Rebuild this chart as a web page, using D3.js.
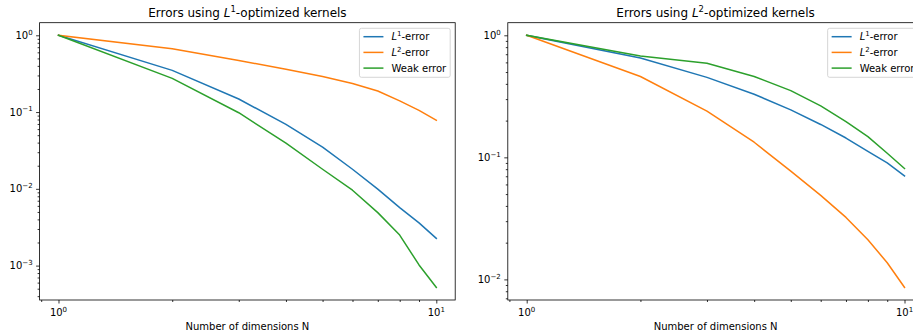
<!DOCTYPE html>
<html>
<head>
<meta charset="utf-8">
<script src="https://cdn.jsdelivr.net/npm/d3@7"></script>
<style>
  body { margin: 0; background: #fff; }
  svg { display: block; font-family: "DejaVu Sans", sans-serif; }
</style>
</head>
<body>
<svg id="chart" width="913" height="332"></svg>
<script>
// number of dimensions on the x axis
const dims = [1, 2, 3, 4, 5, 6, 7, 8, 9, 10];

// errors with L1-optimized kernels
const l1KernelL1Err   = [1, 0.349, 0.148, 0.069, 0.035, 0.0180, 0.0099, 0.0057, 0.0036, 0.00226];
const l1KernelL2Err   = [1, 0.668, 0.470, 0.362, 0.290, 0.236, 0.188, 0.140, 0.105, 0.078];
const l1KernelWeakErr = [1, 0.275, 0.098, 0.0395, 0.018, 0.0096, 0.0049, 0.0025, 0.00102, 0.00052];

// errors with L2-optimized kernels
const l2KernelL1Err   = [1, 0.652, 0.452, 0.329, 0.245, 0.186, 0.144, 0.112, 0.090, 0.0705];
const l2KernelL2Err   = [1, 0.460, 0.239, 0.133, 0.077, 0.0488, 0.0322, 0.0211, 0.0137, 0.0086];
const l2KernelWeakErr = [1, 0.678, 0.590, 0.460, 0.352, 0.264, 0.196, 0.148, 0.108, 0.081];

const seriesColors = ["#1f77b4", "#ff7f0e", "#2ca02c"];
const legendLabels = [
    [["L", "it"], ["1", "sup"], ["-error", ""]],
    [["L", "it"], ["2", "sup"], ["-error", ""]],
    [["Weak error", ""]]
];

const svg = d3.select("#chart");
const axTop = 22.7, axBottom = 300;

// text with italic / superscript pieces, mathtext style
function mathText(sel, parts, size) {
    let raised = false;
    parts.forEach(([t, kind]) => {
        const ts = sel.append("tspan").text(t);
        if (kind == "sup") {
            ts.attr("font-size", size * 0.7).attr("dy", -size * 0.42);
            raised = true;
        } else {
            if (raised) { ts.attr("dy", size * 0.42); raised = false; }
            if (kind == "it") ts.attr("font-style", "italic");
        }
    });
    return sel;
}

function powLabel(v) {
    const e = Math.round(Math.log10(v));
    return [["10", ""], [(e < 0 ? "\u2212" : "") + Math.abs(e), "sup"]];
}

function drawPanel(p) {
    const g = svg.append("g");

    const allVals = p.errors.flat();
    const lo = Math.log10(d3.min(allVals)), hi = Math.log10(d3.max(allVals));
    const m = (hi - lo) * 0.05;

    const x = d3.scaleLog()
        .domain([Math.pow(10, -0.05), Math.pow(10, 1.05)])
        .range([p.left, p.right]);
    const y = d3.scaleLog()
        .domain([Math.pow(10, lo - m), Math.pow(10, hi + m)])
        .range([axBottom, axTop]);

    const isMajor = v => Math.abs(Math.log10(v) - Math.round(Math.log10(v))) < 1e-9;
    const xAll = x.ticks(), yAll = y.ticks();

    // ticks
    const tickAxis = (axis, vals, size, transform) => {
        const a = g.append("g").attr("transform", transform)
            .call(axis.tickValues(vals).tickSize(size).tickFormat(""));
        a.select(".domain").remove();
        a.selectAll("line").attr("stroke", "#000").attr("stroke-width", 0.8);
    };
    tickAxis(d3.axisBottom(x), xAll.filter(v => !isMajor(v)), 2, `translate(0,${axBottom})`);
    tickAxis(d3.axisBottom(x), xAll.filter(isMajor), 3.5, `translate(0,${axBottom})`);
    tickAxis(d3.axisLeft(y), yAll.filter(v => !isMajor(v)), 2, `translate(${p.left},0)`);
    tickAxis(d3.axisLeft(y), yAll.filter(isMajor), 3.5, `translate(${p.left},0)`);

    // tick labels
    xAll.filter(isMajor).forEach(v => {
        mathText(g.append("text")
            .attr("x", x(v)).attr("y", 316)
            .attr("text-anchor", "middle")
            .attr("font-size", 10), powLabel(v), 10);
    });
    yAll.filter(isMajor).forEach(v => {
        mathText(g.append("text")
            .attr("x", p.left - 7).attr("y", y(v) + 3.6)
            .attr("text-anchor", "end")
            .attr("font-size", 10), powLabel(v), 10);
    });

    // lines
    const line = d3.line()
        .x((d, i) => x(dims[i]))
        .y(d => y(d));
    g.append("g").selectAll("path")
        .data(p.errors)
        .enter()
        .append("path")
        .attr("d", line)
        .attr("fill", "none")
        .attr("stroke", (d, i) => seriesColors[i])
        .attr("stroke-width", 1.5)
        .attr("stroke-linejoin", "round")
        .attr("stroke-linecap", "square");

    // spines
    g.append("rect")
        .attr("x", p.left).attr("y", axTop)
        .attr("width", p.right - p.left).attr("height", axBottom - axTop)
        .attr("fill", "none").attr("stroke", "#000").attr("stroke-width", 0.8);

    // title and axis label
    mathText(g.append("text")
        .attr("x", (p.left + p.right) / 2).attr("y", 16.7)
        .attr("text-anchor", "middle").attr("font-size", 12),
        [["Errors using ", ""], ["L", "it"], [p.norm, "sup"], ["-optimized kernels", ""]], 12);

    g.append("text")
        .attr("x", (p.left + p.right) / 2).attr("y", 330)
        .attr("text-anchor", "middle").attr("font-size", 10)
        .text("Number of dimensions N");

    // legend
    const leg = g.append("g");
    const box = leg.append("rect");
    const texts = legendLabels.map((lab, i) =>
        mathText(leg.append("text").attr("font-size", 10), lab, 10));
    const textW = d3.max(texts, t => t.node().getComputedTextLength());
    const legW = 4 + 20 + 8 + textW + 4;
    const legX = p.right - 5 - legW, legY = axTop + 5.6;
    box.attr("x", legX).attr("y", legY).attr("width", legW).attr("height", 49)
        .attr("rx", 2)
        .attr("fill", "#fff").attr("fill-opacity", 0.8)
        .attr("stroke", "#cccccc").attr("stroke-width", 0.8);
    texts.forEach((t, i) => {
        const cy = legY + 8.4 + i * 15.7;
        leg.append("line")
            .attr("x1", legX + 4).attr("x2", legX + 24)
            .attr("y1", cy).attr("y2", cy)
            .attr("stroke", seriesColors[i]).attr("stroke-width", 1.5);
        t.attr("x", legX + 32).attr("y", cy + 3.6);
    });
}

drawPanel({left: 39.6, right: 455.2, norm: "1",
    errors: [l1KernelL1Err, l1KernelL2Err, l1KernelWeakErr]});
drawPanel({left: 507.8, right: 923.4, norm: "2",
    errors: [l2KernelL1Err, l2KernelL2Err, l2KernelWeakErr]});
</script>
</body>
</html>
